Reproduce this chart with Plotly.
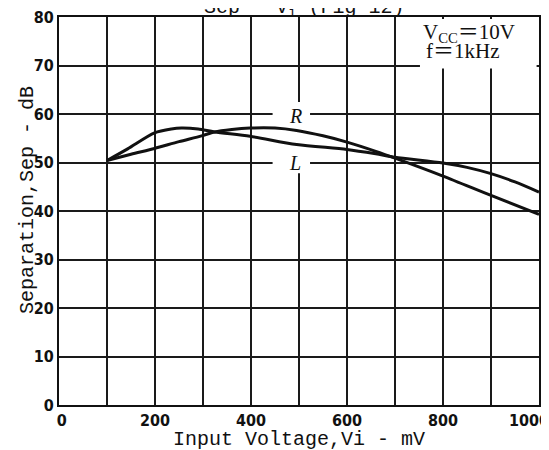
import plotly.graph_objects as go

# ---- data ----
x_L = [100, 143, 199, 234, 255, 290, 324, 398, 495, 600, 660, 700, 800, 850, 900, 950, 1000]
sep_L = [50.4, 52.8, 56.1, 56.9, 57.1, 56.9, 56.3, 55.4, 53.7, 52.7, 51.8, 51.1, 49.9, 49.0, 47.7, 46.0, 43.9]

x_R = [100, 150, 199, 250, 297, 324, 360, 398, 450, 495, 550, 600, 660, 700, 800, 900, 1000]
sep_R = [50.4, 51.7, 52.9, 54.3, 55.5, 56.3, 56.8, 57.1, 57.1, 56.6, 55.5, 54.2, 52.3, 50.9, 47.2, 43.2, 39.3]

pad = "<span style='color:rgba(0,0,0,0)'>{}</span>"
x_tickvals = [0, 100, 200, 300, 400, 500, 600, 700, 800, 900, 1000]
x_ticktext = [pad.format(".") + "0", "", "200", "", "400", "", "600", "", "800", "",
              "1000" + pad.format("00")]
y_tickvals = [0, 10, 20, 30, 40, 50, 60, 70, 80]
y_ticktext = ["0", "10", "20", "30", "40", "50", "60", "70", "80"]

title_text = "Sep - V<sub>i</sub> (Fig 12)"
x_title = "Input Voltage,Vi - mV"
y_title = "Separation,Sep - dB"
vcc_text = "V<sub>CC</sub>\uff1d10V"
freq_text = "f\uff1d1kHz"

mono = "Liberation Mono, Courier New, monospace"
serif = "Liberation Serif, Noto Sans CJK JP, Times New Roman, serif"
narrow = "Liberation Sans Narrow, DejaVu Sans Condensed, Arial Narrow, Liberation Sans, sans-serif"

fig = go.Figure()
fig.add_trace(go.Scatter(x=x_R, y=sep_R, mode="lines", name="R",
                         line=dict(color="#111", width=3, shape="spline", smoothing=0.8)))
fig.add_trace(go.Scatter(x=x_L, y=sep_L, mode="lines", name="L",
                         line=dict(color="#111", width=3, shape="spline", smoothing=0.8)))

axis_common = dict(showgrid=True, gridcolor="#1a1a1a", gridwidth=1.5,
                   showline=True, linecolor="#111", linewidth=2, mirror=True,
                   zeroline=False, ticks="", automargin=False,
                   ticklabeloverflow="allow")

fig.update_xaxes(range=[0, 1000], tickvals=x_tickvals, ticktext=x_ticktext,
                 tickfont=dict(family=narrow, size=16, color="#111", weight="bold"),
                 **axis_common)
fig.update_yaxes(range=[0, 80], tickvals=y_tickvals, ticktext=y_ticktext,
                 tickfont=dict(family=narrow, size=16, color="#111", weight="bold"),
                 **axis_common)

# white patches hiding grid behind text (as in the original figure)
fig.add_shape(type="rect", xref="x", yref="y", x0=752, x1=995, y0=69.4, y1=79.6,
              fillcolor="white", line=dict(width=0), layer="above")
fig.add_shape(type="rect", xref="x", yref="y", x0=445, x1=523, y0=47.8, y1=62.5,
              fillcolor="white", line=dict(width=0), layer="between")

fig.add_annotation(text="<i>R</i>", x=492, y=59.5, xref="x", yref="y", showarrow=False,
                   font=dict(family=serif, size=20, color="#111"))
fig.add_annotation(text="<i>L</i>", x=492, y=50, xref="x", yref="y", showarrow=False,
                   font=dict(family=serif, size=20, color="#111"))
fig.add_annotation(text=vcc_text, x=754, y=76.7, xref="x", yref="y", showarrow=False,
                   xanchor="left", yanchor="middle", align="left",
                   font=dict(family=serif, size=21, color="#111"))
fig.add_annotation(text=freq_text, x=760, y=72.9, xref="x", yref="y", showarrow=False,
                   xanchor="left", yanchor="middle", align="left",
                   font=dict(family=serif, size=21, color="#111"))

fig.add_annotation(text=title_text, xref="paper", yref="paper", x=0.51, y=0.985,
                   xanchor="center", yanchor="bottom", showarrow=False,
                   font=dict(family=mono, size=20, color="#111"))
fig.add_annotation(text=x_title, xref="paper", yref="paper", x=0.5, y=-0.09,
                   xanchor="center", yanchor="middle", showarrow=False,
                   font=dict(family=mono, size=20, color="#111"))
fig.add_annotation(text=y_title, xref="paper", yref="paper", x=-0.067, y=0.528,
                   xanchor="center", yanchor="middle", textangle=-90, showarrow=False,
                   font=dict(family=mono, size=20, color="#111"))

# page body has an 8px margin: size the figure so it fills the window exactly
fig.update_layout(width=541, height=442, showlegend=False,
                  margin=dict(l=51, r=10, t=9, b=45, autoexpand=False),
                  paper_bgcolor="white", plot_bgcolor="white")

fig.write_html("out.html")
